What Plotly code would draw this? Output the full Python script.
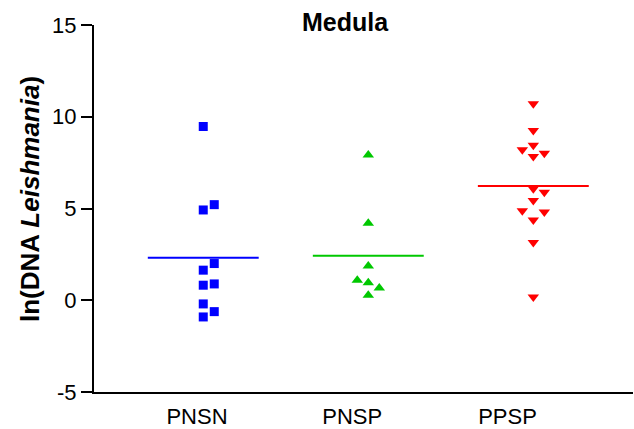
import plotly.graph_objects as go

# ---- data ----
categories = ["PNSN", "PNSP", "PPSP"]
pnsn = [9.47, 5.21, 4.92, 2.00, 1.64, 0.89, 0.82, -0.20, -0.62, -0.91]
pnsp = [7.92, 4.19, 1.87, 1.09, 0.95, 0.67, 0.27]
ppsp = [10.71, 9.25, 8.45, 8.20, 8.01, 7.83, 6.07, 5.88, 5.43, 4.88, 4.81, 4.37, 3.15, 0.18]
y_ticks = [-5, 0, 5, 10, 15]
y_tick_labels = ["-5", "0", "5", "10", "15"]

series = [pnsn, pnsp, ppsp]
colors = ["#0000FF", "#00C800", "#FF0000"]
symbols = ["square", "triangle-up", "triangle-down"]
sizes = [9, 10, 10]

SLOT = 0.0667      # horizontal spacing between side-by-side points (x units)
COLLIDE = 0.55     # vertical distance (y units) below which points are spread
HALF_LINE = 0.336  # half-width of mean line


def swarm(values):
    """Simple deterministic beeswarm: returns slot index per value."""
    order = sorted(range(len(values)), key=lambda i: values[i])
    placed = []  # (slot, value)
    slots = [0] * len(values)
    for i in order:
        v = values[i]
        for s in [0, 1, -1, 2, -2, 3, -3]:
            if all(not (ps == s and abs(pv - v) < COLLIDE) for ps, pv in placed):
                slots[i] = s
                placed.append((s, v))
                break
    return slots


fig = go.Figure()
for k, vals in enumerate(series):
    sl = swarm(vals)
    xs = [k + s * SLOT for s in sl]
    fig.add_trace(go.Scatter(
        x=xs, y=vals, mode="markers",
        marker=dict(symbol=symbols[k], size=sizes[k], color=colors[k], line=dict(width=0)),
        showlegend=False, hoverinfo="skip"))
    m = sum(vals) / len(vals)
    fig.add_trace(go.Scatter(
        x=[k - HALF_LINE, k + HALF_LINE], y=[m, m], mode="lines",
        line=dict(color=colors[k], width=2), showlegend=False, hoverinfo="skip"))

# invisible trace for label axis
fig.add_trace(go.Scatter(x=[0, 1, 2], y=[None, None, None], xaxis="x2", mode="markers",
                         showlegend=False, hoverinfo="skip"))

W, H = 634, 429
ml, mr, mt, mb = 94, 1, 25, 37
pw = W - ml - mr
ph = H - mt - mb

font = "Liberation Sans, Arial, Helvetica, sans-serif"

fig.update_layout(
    width=W, height=H,
    margin=dict(l=ml, r=mr, t=mt, b=mb, autoexpand=False),
    paper_bgcolor="white", plot_bgcolor="white",
    font=dict(family=font, size=22, color="black"),
    title=dict(text="<b>Medula</b>", x=345 / W, xanchor="center",
               y=1 - 22 / H, yanchor="middle", font=dict(size=25)),
    xaxis=dict(range=[-0.662, 2.604], showline=True, linewidth=2, linecolor="black",
               showticklabels=False, ticks="", showgrid=False, zeroline=False,
               automargin=False),
    xaxis2=dict(range=[-0.663, 2.808], overlaying="x", anchor="y", side="bottom",
                tickvals=[0, 1, 2], ticktext=categories, showline=False, ticks="",
                ticklabelstandoff=9,
                showgrid=False, zeroline=False, tickfont=dict(size=22), automargin=False),
    yaxis=dict(range=[-5, 15], tickvals=y_ticks, ticktext=y_tick_labels, ticks="outside",
               ticklen=11, tickwidth=2, tickcolor="black", showline=True, linewidth=2,
               linecolor="black", showgrid=False, zeroline=False, tickfont=dict(size=22),
               automargin=False),
    annotations=[dict(text="<b>ln(DNA <i>Leishmania</i>)</b>", textangle=-90,
                      xref="paper", yref="paper", x=0, xshift=-(ml - 30),
                      y=(H - mb - 199) / ph, xanchor="center", yanchor="middle",
                      showarrow=False, font=dict(size=26))],
)

fig.write_html("out.html", config={"displayModeBar": False, "staticPlot": True},
               post_script="document.body.style.margin='0';")
